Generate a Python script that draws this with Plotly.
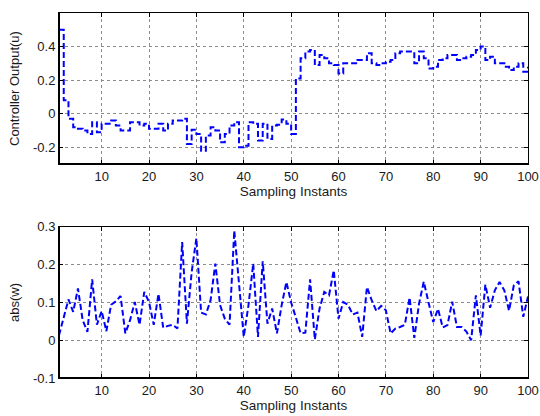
import plotly.graph_objects as go
from plotly.subplots import make_subplots

# ---- data ----
k = list(range(1, 101))
u = [0.50, 0.08, -0.03, -0.08, -0.09, -0.10, -0.12, -0.05, -0.11, -0.06,
     -0.06, -0.04, -0.07, -0.10, -0.10, -0.05, -0.05, -0.07, -0.06, -0.09,
     -0.09, -0.06, -0.10, -0.06, -0.04, -0.04, -0.03, -0.18, -0.095, -0.12,
     -0.22, -0.13, -0.08, -0.10, -0.17, -0.12, -0.07, -0.05, -0.20, -0.19,
     -0.05, -0.06, -0.16, -0.06, -0.15, -0.07, -0.065, -0.035, -0.06, -0.12,
     0.21, 0.33, 0.37, 0.38, 0.29, 0.35, 0.33, 0.30, 0.29, 0.24,
     0.30, 0.30, 0.30, 0.32, 0.32, 0.36, 0.30, 0.29, 0.30, 0.31,
     0.32, 0.36, 0.37, 0.37, 0.37, 0.30, 0.37, 0.33, 0.27, 0.28,
     0.32, 0.33, 0.35, 0.35, 0.32, 0.33, 0.34, 0.35, 0.38, 0.40,
     0.32, 0.34, 0.30, 0.30, 0.28, 0.26, 0.28, 0.30, 0.25, 0.28]
w = [0.013, 0.06, 0.108, 0.075, 0.137, 0.053, 0.022, 0.161, 0.041, 0.077,
     0.024, 0.094, 0.103, 0.117, 0.018, 0.053, 0.101, 0.041, 0.128, 0.101,
     0.041, 0.123, 0.033, 0.038, 0.041, 0.031, 0.26, 0.044, 0.18, 0.27,
     0.073, 0.068, 0.106, 0.203, 0.093, 0.057, 0.041, 0.29, 0.145, 0.009,
     0.093, 0.203, 0.009, 0.209, 0.044, 0.084, 0.018, 0.093, 0.154, 0.10,
     0.06, 0.018, 0.020, 0.161, 0.002, 0.084, 0.128, 0.119, 0.185, 0.057,
     0.101, 0.094, 0.068, 0.073, 0.009, 0.141, 0.106, 0.077, 0.091, 0.079,
     0.018, 0.031, 0.035, 0.041, 0.113, 0.006, 0.097, 0.155, 0.10, 0.048,
     0.083, 0.034, 0.040, 0.102, 0.035, 0.035, 0.023, 0.0, 0.119, 0.012,
     0.147, 0.086, 0.132, 0.154, 0.132, 0.078, 0.145, 0.156, 0.062, 0.116]
x_ticks = [10, 20, 30, 40, 50, 60, 70, 80, 90, 100]
u_ticks = [-0.2, 0, 0.2, 0.4]
u_labels = ["-0.2", "0", "0.2", "0.4"]
w_ticks = [-0.1, 0, 0.1, 0.2, 0.3]
w_labels = ["-0.1", "0", "0.1", "0.2", "0.3"]

FONT = "Liberation Sans, Arial, sans-serif"
FS = 13

fig = make_subplots(rows=2, cols=1, vertical_spacing=0.0)

line_style = dict(color="#0000FF", width=2, dash="6px,3px")
fig.add_trace(go.Scatter(x=k, y=u, mode="lines", line=dict(shape="hv", **line_style),
                         showlegend=False), row=1, col=1)
fig.add_trace(go.Scatter(x=k, y=w, mode="lines", line=line_style,
                         showlegend=False), row=2, col=1)

axis_common = dict(showline=True, linecolor="black", linewidth=1, mirror="ticks",
                   ticks="inside", ticklen=4, tickcolor="black", automargin=False,
                   ticklabeloverflow="allow",
                   showgrid=True, gridcolor="#8c8c8c", griddash="dot", gridwidth=1,
                   zeroline=False, tickfont=dict(family=FONT, size=FS, color="#1a1a1a"))

fig.update_layout(
    width=540, height=416,
    margin=dict(l=59, r=12, t=13, b=38),
    paper_bgcolor="white", plot_bgcolor="white",
    font=dict(family=FONT, size=FS, color="#1a1a1a"),
    xaxis=dict(domain=[0, 1], range=[1, 100], tickvals=x_ticks, anchor="y",
               title=dict(text="Sampling Instants", standoff=3, font=dict(size=13.5)),
               **axis_common),
    yaxis=dict(domain=[0.586, 1.0], range=[-0.3, 0.6], tickvals=u_ticks, ticktext=u_labels,
               anchor="x",
               title=dict(text="Controller Output(u)", standoff=10, font=dict(size=FS)),
               **axis_common),
    xaxis2=dict(domain=[0, 1], range=[1, 100], tickvals=x_ticks, anchor="y2",
                title=dict(text="Sampling Instants", standoff=3, font=dict(size=13.5)),
                **axis_common),
    yaxis2=dict(domain=[0.0, 0.414], range=[-0.1, 0.3], tickvals=w_ticks, ticktext=w_labels,
                anchor="x2",
                title=dict(text="abs(w)", standoff=10, font=dict(size=FS)),
                **axis_common),
)

# thicker left/bottom frame lines like the reference
for xr, yr in (("x domain", "y domain"), ("x2 domain", "y2 domain")):
    fig.add_shape(type="line", xref=xr, yref=yr, x0=0, x1=0, y0=0, y1=1,
                  line=dict(color="black", width=2))
    fig.add_shape(type="line", xref=xr, yref=yr, x0=0, x1=1, y0=0, y1=0,
                  line=dict(color="black", width=2))

fig.write_html("out.html", config={"displayModeBar": False},
               post_script="document.body.style.margin='0';")
